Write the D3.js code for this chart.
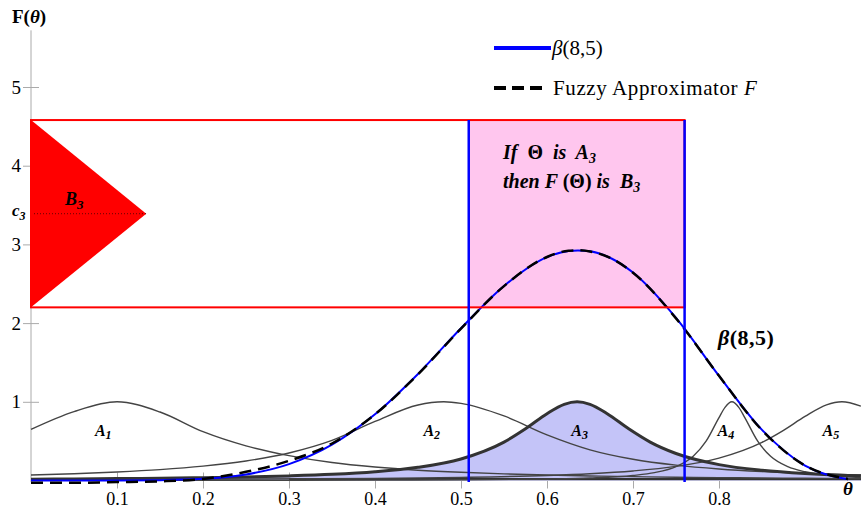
<!DOCTYPE html>
<html>
<head>
<meta charset="utf-8">
<script src="https://cdn.jsdelivr.net/npm/d3@7"></script>
<style>
body { margin: 0; background: #fff; }
text { font-family: "Liberation Serif", "DejaVu Serif", serif; fill: #000; }
</style>
</head>
<body>
<div id="chart"></div>
<script>
// if-part fuzzy sets A1..A5 (theta, membership)
const thetaA1 = [0, 0.05, 0.1, 0.15, 0.2, 0.25, 0.3, 0.35, 0.4, 0.45, 0.5, 0.55, 0.6, 0.65, 0.7, 0.75, 0.8, 0.85, 0.9, 0.95, 0.965];
const memA1 = [0.649, 0.875, 1, 0.87, 0.62, 0.44, 0.316, 0.228, 0.171, 0.131, 0.104, 0.084, 0.069, 0.058, 0.049, 0.042, 0.036, 0.032, 0.028, 0.025, 0.024];
const thetaA2 = [0, 0.05, 0.1, 0.15, 0.2, 0.25, 0.3, 0.35, 0.4, 0.45, 0.48, 0.5, 0.55, 0.6, 0.65, 0.7, 0.75, 0.8, 0.85, 0.9, 0.95, 0.965];
const memA2 = [0.070, 0.086, 0.108, 0.138, 0.182, 0.248, 0.350, 0.51, 0.75, 0.96, 1, 0.98, 0.82, 0.58, 0.39, 0.27, 0.195, 0.146, 0.113, 0.090, 0.073, 0.069];
const thetaA3 = [0, 0.05, 0.1, 0.15, 0.2, 0.25, 0.3, 0.35, 0.4, 0.45, 0.5, 0.55, 0.575, 0.6, 0.62, 0.635, 0.65, 0.67, 0.695, 0.72, 0.75, 0.8, 0.85, 0.9, 0.95, 0.965];
const memA3 = [0.017, 0.020, 0.024, 0.029, 0.035, 0.044, 0.058, 0.078, 0.111, 0.168, 0.274, 0.488, 0.657, 0.849, 0.968, 1, 0.968, 0.849, 0.657, 0.488, 0.343, 0.202, 0.130, 0.089, 0.065, 0.060];
const thetaA4 = [0, 0.2, 0.4, 0.5, 0.6, 0.65, 0.7, 0.725, 0.75, 0.77, 0.785, 0.8, 0.807, 0.815, 0.823, 0.83, 0.845, 0.86, 0.88, 0.9, 0.93, 0.965];
const memA4 = [0.001, 0.002, 0.005, 0.009, 0.019, 0.032, 0.064, 0.100, 0.176, 0.308, 0.5, 0.8, 0.93, 1, 0.93, 0.8, 0.5, 0.308, 0.176, 0.111, 0.064, 0.039];
const thetaA5 = [0, 0.2, 0.4, 0.5, 0.6, 0.65, 0.7, 0.75, 0.8, 0.85, 0.875, 0.9, 0.925, 0.943, 0.965];
const memA5 = [0.009, 0.015, 0.027, 0.040, 0.064, 0.086, 0.121, 0.179, 0.284, 0.484, 0.637, 0.814, 0.962, 1, 0.944];

// beta(8,5) density and the fuzzy approximator F
const thetaB = [0, 0.05, 0.1, 0.15, 0.2, 0.25, 0.3, 0.35, 0.4, 0.45, 0.5, 0.55, 0.6, 0.625, 0.636, 0.65, 0.675, 0.7, 0.75, 0.8, 0.85, 0.9, 0.95];
const betaVals = [0, 0, 0, 0.004, 0.021, 0.077, 0.208, 0.455, 0.841, 1.354, 1.934, 2.472, 2.838, 2.917, 2.924, 2.913, 2.821, 2.642, 2.065, 1.329, 0.643, 0.189, 0.017];
const fuzzyVals = [-0.03, -0.03, -0.02, -0.01, 0.02, 0.11, 0.25, 0.47, 0.84, 1.35, 1.93, 2.47, 2.84, 2.92, 2.925, 2.91, 2.82, 2.64, 2.06, 1.33, 0.64, 0.19, 0.02];

// rule patch "if A3 then B3"
const ruleTheta = [0.509, 0.760];
const ruleF = [2.2, 4.58];
const c3 = 3.39;
const b3Apex = 0.134;

const xTicks = [0.1, 0.2, 0.3, 0.4, 0.5, 0.6, 0.7, 0.8];
const yTicks = [1, 2, 3, 4, 5];
const setNames = ["1", "2", "3", "4", "5"];
const setLabelTheta = [0.084, 0.466, 0.638, 0.808, 0.93];

const width = 861, height = 510;

const svg = d3.select("#chart")
   .append("svg")
   .attr("width", width)
   .attr("height", height);

const x = d3.scaleLinear().domain([0, 1]).range([31, 891]);
const y = d3.scaleLinear().domain([0, 5]).range([480.5, 87]);

const line = d3.line()
   .x(d => x(d[0]))
   .y(d => y(d[1]))
   .curve(d3.curveMonotoneX);

// axes
svg.append("line")
   .attr("x1", x(0)).attr("x2", x(0))
   .attr("y1", y(5.72)).attr("y2", y(-0.02))
   .attr("stroke", "#aaa");
svg.append("line")
   .attr("x1", x(0)).attr("x2", width)
   .attr("y1", y(0)).attr("y2", y(0))
   .attr("stroke", "#aaa");

const yAxis = svg.append("g")
   .attr("transform", "translate(" + x(0) + ",0)")
   .call(d3.axisLeft(y).tickValues(yTicks).tickSize(8).tickFormat(d3.format("d")));
yAxis.select(".domain").remove();
yAxis.selectAll(".tick line").attr("x1", 8).attr("stroke", "#aaa");
yAxis.selectAll(".tick text")
   .attr("x", -10)
   .style("font-family", "Liberation Serif")
   .style("font-size", "19px")
   .attr("fill", "#222");

const xAxis = svg.append("g")
   .attr("transform", "translate(0," + y(0) + ")")
   .call(d3.axisBottom(x).tickValues(xTicks).tickSize(8));
xAxis.select(".domain").remove();
xAxis.selectAll(".tick line").attr("y1", -8).attr("stroke", "#aaa");
xAxis.selectAll(".tick text")
   .attr("y", 12)
   .style("font-family", "Liberation Serif")
   .style("font-size", "18px")
   .attr("fill", "#222");

// pink rule patch
svg.append("rect")
   .attr("x", x(ruleTheta[0]))
   .attr("y", y(ruleF[1]))
   .attr("width", x(ruleTheta[1]) - x(ruleTheta[0]))
   .attr("height", y(ruleF[0]) - y(ruleF[1]))
   .attr("fill", "#ffc6ee");

// A3 filled
const area = d3.area()
   .x(d => x(d[0]))
   .y0(y(0))
   .y1(d => y(d[1]))
   .curve(d3.curveMonotoneX);
svg.append("path")
   .datum(d3.zip(thetaA3, memA3))
   .attr("d", area)
   .attr("fill", "#c4c4f8");

// thin dark base line under the sets
svg.append("line")
   .attr("x1", x(0.3)).attr("x2", width)
   .attr("y1", y(0.02)).attr("y2", y(0.02))
   .attr("stroke", "#333")
   .attr("stroke-width", 2);

const sets = [
   [thetaA1, memA1], [thetaA2, memA2], [thetaA4, memA4], [thetaA5, memA5]
];
sets.forEach(function (s) {
   svg.append("path")
      .datum(d3.zip(s[0], s[1]))
      .attr("d", line)
      .attr("fill", "none")
      .attr("stroke", "#444")
      .attr("stroke-width", 1.4);
});

svg.append("path")
   .datum(d3.zip(thetaA3, memA3))
   .attr("d", line)
   .attr("fill", "none")
   .attr("stroke", "#333")
   .attr("stroke-width", 3);

// beta density and approximator
svg.append("path")
   .datum(d3.zip(thetaB, betaVals))
   .attr("d", line)
   .attr("fill", "none")
   .attr("stroke", "#0000ff")
   .attr("stroke-width", 2);

svg.append("path")
   .datum(d3.zip(thetaB, fuzzyVals))
   .attr("d", line)
   .attr("fill", "none")
   .attr("stroke", "#000")
   .attr("stroke-width", 2.5)
   .attr("stroke-dasharray", "12,7");

// B3 triangle
svg.append("path")
   .datum([[0, ruleF[1]], [b3Apex, c3], [0, ruleF[0]]])
   .attr("d", d3.line().x(d => x(d[0])).y(d => y(d[1])))
   .attr("fill", "#ff0000");

svg.append("line")
   .attr("x1", x(0)).attr("x2", x(b3Apex))
   .attr("y1", y(c3)).attr("y2", y(c3))
   .attr("stroke", "#600")
   .attr("stroke-width", 1)
   .attr("stroke-dasharray", "1,2");

// red rule rectangle
svg.append("rect")
   .attr("x", x(0))
   .attr("y", y(ruleF[1]))
   .attr("width", x(ruleTheta[1]) - x(0))
   .attr("height", y(ruleF[0]) - y(ruleF[1]))
   .attr("fill", "none")
   .attr("stroke", "#ff0000")
   .attr("stroke-width", 2);

// blue projection lines
ruleTheta.forEach(function (t) {
   svg.append("line")
      .attr("x1", x(t)).attr("x2", x(t))
      .attr("y1", y(ruleF[1])).attr("y2", y(-0.02))
      .attr("stroke", "#0000ff")
      .attr("stroke-width", 2.5);
});

// text
svg.append("text")
   .attr("x", 12).attr("y", 23)
   .attr("font-size", "19px")
   .attr("font-weight", "bold")
   .html('F(<tspan font-style="italic">θ</tspan>)');

svg.append("text")
   .attr("x", 843).attr("y", 495)
   .attr("font-size", "19px")
   .attr("font-weight", "bold")
   .attr("font-style", "italic")
   .text("θ");

svg.append("text")
   .attr("x", 12).attr("y", 216)
   .attr("font-size", "17px")
   .attr("font-weight", "bold")
   .attr("font-style", "italic")
   .html('c<tspan font-size="12px" dy="4">3</tspan>');

svg.append("text")
   .attr("x", 65).attr("y", 205)
   .attr("font-size", "18px")
   .attr("font-weight", "bold")
   .attr("font-style", "italic")
   .html('B<tspan font-size="13px" dy="4">3</tspan>');

svg.selectAll(".setlabel")
   .data(setNames)
   .enter()
   .append("text")
   .attr("class", "setlabel")
   .attr("x", (d, i) => x(setLabelTheta[i]))
   .attr("y", y(0.56))
   .attr("text-anchor", "middle")
   .attr("font-size", "16px")
   .attr("font-weight", "bold")
   .attr("font-style", "italic")
   .html(d => 'A<tspan font-size="12px" dy="3">' + d + '</tspan>');

svg.append("text")
   .attr("x", 503).attr("y", 159)
   .attr("font-size", "20px")
   .attr("font-weight", "bold")
   .attr("font-style", "italic")
   .attr("xml:space", "preserve")
   .html('If  <tspan font-style="normal">Θ</tspan>  is  A<tspan font-size="14px" dy="4">3</tspan>');

svg.append("text")
   .attr("x", 503).attr("y", 188)
   .attr("font-size", "20px")
   .attr("font-weight", "bold")
   .attr("font-style", "italic")
   .attr("xml:space", "preserve")
   .html('then F <tspan font-style="normal">(Θ)</tspan> is  B<tspan font-size="14px" dy="4">3</tspan>');

svg.append("text")
   .attr("x", 718).attr("y", 345)
   .attr("font-size", "22px")
   .attr("font-weight", "bold")
   .attr("letter-spacing", "0.5")
   .html('<tspan font-style="italic">β</tspan>(8,5)');

// legend
svg.append("line")
   .attr("x1", 494).attr("x2", 551)
   .attr("y1", 48).attr("y2", 48)
   .attr("stroke", "#0000ff")
   .attr("stroke-width", 4);
svg.append("text")
   .attr("x", 552).attr("y", 55)
   .attr("font-size", "21px")
   .html('<tspan font-style="italic">β</tspan>(8,5)');

svg.append("line")
   .attr("x1", 494).attr("x2", 542)
   .attr("y1", 88).attr("y2", 88)
   .attr("stroke", "#000")
   .attr("stroke-width", 4)
   .attr("stroke-dasharray", "12,6");
svg.append("text")
   .attr("x", 553).attr("y", 95)
   .attr("font-size", "21px")
   .attr("letter-spacing", "0.6")
   .html('Fuzzy Approximator <tspan font-style="italic">F</tspan>');
</script>
</body>
</html>
